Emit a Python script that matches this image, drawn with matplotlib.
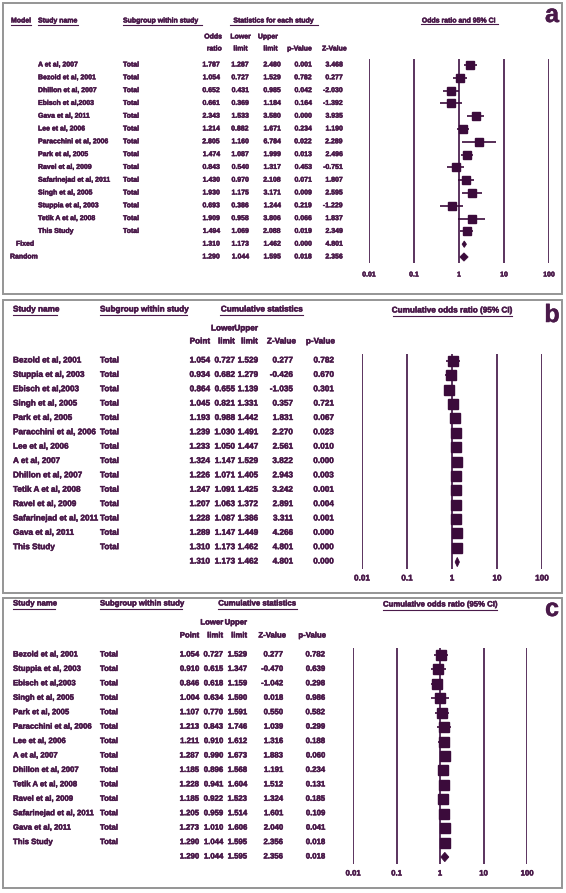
import matplotlib
matplotlib.use('Agg')
import matplotlib.pyplot as plt
import matplotlib.transforms as mtransforms
import matplotlib.patheffects as pe
from matplotlib.patches import Rectangle, Polygon
from matplotlib.lines import Line2D

# ---- data ----
# panel a: individual studies
studies_a = ["A et al, 2007", "Bezold et al, 2001", "Dhillon et al, 2007", "Ebisch et al,2003",
             "Gava et al, 2011", "Lee et al, 2006", "Paracchini et al, 2006", "Park et al, 2005",
             "Ravel et al, 2009", "Safarinejad et al, 2011", "Singh et al, 2005",
             "Stuppia et al, 2003", "Tetik A et al, 2008", "This Study"]
or_a = [1.787, 1.054, 0.652, 0.661, 2.343, 1.214, 2.805, 1.474, 0.843, 1.430, 1.930, 0.693, 1.909, 1.494]
lo_a = [1.287, 0.727, 0.431, 0.369, 1.533, 0.882, 1.160, 1.087, 0.540, 0.970, 1.175, 0.386, 0.958, 1.069]
hi_a = [2.480, 1.529, 0.985, 1.184, 3.580, 1.671, 6.784, 1.999, 1.317, 2.108, 3.171, 1.244, 3.806, 2.088]
p_a = [0.001, 0.782, 0.042, 0.164, 0.000, 0.234, 0.022, 0.013, 0.453, 0.071, 0.009, 0.219, 0.066, 0.019]
z_a = [3.468, 0.277, -2.030, -1.392, 3.935, 1.190, 2.289, 2.496, -0.751, 1.807, 2.595, -1.229, 1.837, 2.349]
models = ["Fixed", "Random"]
or_pool = [1.310, 1.290]
lo_pool = [1.173, 1.044]
hi_pool = [1.462, 1.595]
p_pool = [0.000, 0.018]
z_pool = [4.801, 2.356]

# panels b and c: cumulative analysis (same study order)
studies_cum = ["Bezold et al, 2001", "Stuppia et al, 2003", "Ebisch et al,2003", "Singh et al, 2005",
               "Park et al, 2005", "Paracchini et al, 2006", "Lee et al, 2006", "A et al, 2007",
               "Dhillon et al, 2007", "Tetik A et al, 2008", "Ravel et al, 2009",
               "Safarinejad et al, 2011", "Gava et al, 2011", "This Study"]
pt_b = [1.054, 0.934, 0.864, 1.045, 1.193, 1.239, 1.233, 1.324, 1.226, 1.247, 1.207, 1.228, 1.289, 1.310, 1.310]
lo_b = [0.727, 0.682, 0.655, 0.821, 0.988, 1.030, 1.050, 1.147, 1.071, 1.091, 1.063, 1.087, 1.147, 1.173, 1.173]
hi_b = [1.529, 1.279, 1.139, 1.331, 1.442, 1.491, 1.447, 1.529, 1.405, 1.425, 1.372, 1.386, 1.449, 1.462, 1.462]
z_b = [0.277, -0.426, -1.035, 0.357, 1.831, 2.270, 2.561, 3.822, 2.943, 3.242, 2.891, 3.311, 4.266, 4.801, 4.801]
p_b = [0.782, 0.670, 0.301, 0.721, 0.067, 0.023, 0.010, 0.000, 0.003, 0.001, 0.004, 0.001, 0.000, 0.000, 0.000]

pt_c = [1.054, 0.910, 0.846, 1.004, 1.107, 1.213, 1.211, 1.287, 1.185, 1.228, 1.185, 1.205, 1.273, 1.290, 1.290]
lo_c = [0.727, 0.615, 0.618, 0.634, 0.770, 0.843, 0.910, 0.990, 0.896, 0.941, 0.922, 0.959, 1.010, 1.044, 1.044]
hi_c = [1.529, 1.347, 1.159, 1.590, 1.591, 1.746, 1.612, 1.673, 1.568, 1.604, 1.523, 1.514, 1.606, 1.595, 1.595]
z_c = [0.277, -0.470, -1.042, 0.018, 0.550, 1.039, 1.316, 1.883, 1.191, 1.512, 1.324, 1.601, 2.040, 2.356, 2.356]
p_c = [0.782, 0.639, 0.298, 0.986, 0.582, 0.299, 0.188, 0.060, 0.234, 0.131, 0.185, 0.109, 0.041, 0.018, 0.018]

ticks = [0.01, 0.1, 1, 10, 100]
tick_labels = ["0.01", "0.1", "1", "10", "100"]

# ---- style ----
plt.rcParams['font.family'] = 'Liberation Sans'
TXT = '#4a1a4a'
MARK = '#3b0b3b'
VLINE = '#4d2352'
HEAVY = [pe.withStroke(linewidth=0.35, foreground=TXT)]  # the original face is very heavy
W, H = 566, 893

fig = plt.figure(figsize=(W / 100, H / 100), dpi=100)


def fx(px):
    return px / W


def fy(py):
    return 1 - py / H


def ftext(px, py, s, size, ha='left'):
    fig.text(fx(px), fy(py), s, fontsize=size, ha=ha, va='center', color=TXT,
             fontweight='bold', path_effects=HEAVY)


def uline(x0, x1, py):
    fig.add_artist(Line2D([fx(x0), fx(x1)], [fy(py), fy(py)], transform=fig.transFigure,
                          color=TXT, lw=0.8))


def frame(y0, y1):
    fig.add_artist(Rectangle((fx(3), fy(y1)), fx(562) - fx(3), (y1 - y0) / H,
                             transform=fig.transFigure, fill=False, ec='#959595', lw=1.4))


def forest_axes(x0, x1, y0, y1, nrows, tick_y, size):
    ax = fig.add_axes([fx(x0), fy(y1), (x1 - x0) / W, (y1 - y0) / H])
    ax.set_xscale('log')
    ax.set_xlim(0.01, 100)
    ax.set_ylim(nrows - 0.5, -0.5)
    ax.axis('off')
    for t in ticks:
        ax.axvline(t, color=VLINE, lw=1.3, zorder=1)
    tr = mtransforms.blended_transform_factory(ax.transData, fig.transFigure)
    for t, lab in zip(ticks, tick_labels):
        ax.text(t, fy(tick_y), lab, transform=tr, ha='center', va='center',
                fontsize=size, color=TXT, fontweight='bold', path_effects=HEAVY)
    return ax


def diamond(ax, y, est, lo, hi, h):
    ax.add_patch(Polygon([(lo, y), (est, y - h), (hi, y), (est, y + h)], closed=True,
                         fc=MARK, ec=MARK, lw=0.6, zorder=3, clip_on=False))


def row_text(ax, px, row, s, size, ha='left'):
    tr = mtransforms.blended_transform_factory(fig.transFigure, ax.transData)
    ax.text(fx(px), row, s, transform=tr, ha=ha, va='center', fontsize=size,
            color=TXT, fontweight='bold', clip_on=False, path_effects=HEAVY)


# ================= panel a =================
frame(3, 294)
sa = 5.0
ftext(11, 21, "Model", sa)
ftext(38, 21, "Study name", sa)
ftext(123, 21, "Subgroup within study", sa)
ftext(274, 21, "Statistics for each study", sa, ha='center')
ftext(459, 21, "Odds ratio and 95% CI", sa, ha='center')
uline(11, 31, 25)
uline(38, 78, 25)
uline(123, 202, 25)
uline(230, 318, 25)
uline(421, 498, 24)
ftext(552, 15, "a", 18, ha='center')
ftext(222, 37, "Odds", sa, ha='right')
ftext(251, 37, "Lower", sa, ha='right')
ftext(278, 37, "Upper", sa, ha='right')
for px, s in zip([222, 248, 278, 312, 347], ["ratio", "limit", "limit", "p-Value", "Z-Value"]):
    ftext(px, 49, s, sa, ha='right')

n_a = len(studies_a) + len(models)
ax_a = forest_axes(369, 549, 58.6, 263.4, n_a, 275, sa)
cols_a = [220, 249, 281, 312, 343]
for i, name in enumerate(studies_a):
    row_text(ax_a, 38, i, name, sa)
    row_text(ax_a, 123, i, "Total", sa)
    for px, v in zip(cols_a, [or_a[i], lo_a[i], hi_a[i], p_a[i], z_a[i]]):
        row_text(ax_a, px, i, f"{v:.3f}", sa, ha='right')
    ax_a.hlines(i, lo_a[i], hi_a[i], color=MARK, lw=1.2, zorder=2)
    ax_a.plot(or_a[i], i, marker='s', ms=5.8, color=MARK, zorder=3, clip_on=False)
for k, m in enumerate(models):
    r = len(studies_a) + k
    row_text(ax_a, 16 if m == "Fixed" else 10, r, m, sa)
    for px, v in zip(cols_a, [or_pool[k], lo_pool[k], hi_pool[k], p_pool[k], z_pool[k]]):
        row_text(ax_a, px, r, f"{v:.3f}", sa, ha='right')
    diamond(ax_a, r, or_pool[k], lo_pool[k], hi_pool[k], 0.25 if k == 0 else 0.32)


# ================= panels b and c =================
def cumulative_panel(top, bottom, row0, step, x0, x1, tick_y, size, letter,
                     pt, lo, hi, z, p, cols, hdr):
    frame(top, bottom)
    hy = row0 - 51
    ftext(13, hy, "Study name", size)
    ftext(100, hy, "Subgroup within study", size)
    ftext(hdr['stat_c'], hy, "Cumulative statistics", size, ha='center')
    ftext(hdr['or_c'], hy + 1, "Cumulative odds ratio (95% CI)", size, ha='center')
    uline(13, hdr['sn_end'], hy + 5)
    uline(100, hdr['sg_end'], hy + 5)
    uline(*hdr['stat_ul'], hy + 5)
    uline(*hdr['or_ul'], hy + 6)
    ftext(552, hy + 5, letter, 18, ha='center')
    ftext(cols[1], row0 - 32, "Lower", size, ha='right')
    ftext(cols[2], row0 - 32, "Upper", size, ha='right')
    for px, s in zip([cols[0], cols[1], cols[2], cols[3] + 3, cols[4] + 1],
                     ["Point", "limit", "limit", "Z-Value", "p-Value"]):
        ftext(px, row0 - 19, s, size, ha='right')

    n = len(pt)
    ax = forest_axes(x0, x1, row0 - step / 2, row0 + step * (n - 1) + step / 2, n, tick_y, size)
    for i in range(n):
        if i < len(studies_cum):
            row_text(ax, 13, i, studies_cum[i], size)
            row_text(ax, 100, i, "Total", size)
        for px, v in zip(cols, [pt[i], lo[i], hi[i], z[i], p[i]]):
            row_text(ax, px, i, f"{v:.3f}", size, ha='right')
        if i < len(studies_cum):
            ax.hlines(i, lo[i], hi[i], color=MARK, lw=1.2, zorder=2)
            ax.plot(pt[i], i, marker='s', ms=6.6, color=MARK, zorder=3, clip_on=False)
        else:
            diamond(ax, i, pt[i], lo[i], hi[i], 0.32)
    return ax


cumulative_panel(300, 593, 361, 14.36, 362, 542, 579, 5.9, "b",
                 pt_b, lo_b, hi_b, z_b, p_b, [210, 235, 258, 293, 334],
                 dict(stat_c=262, or_c=452, sn_end=57, sg_end=187,
                      stat_ul=(220, 303), or_ul=(393, 512)))
cumulative_panel(598, 888, 655, 14.43, 353, 527, 874, 5.6, "c",
                 pt_c, lo_c, hi_c, z_c, p_c, [199, 223, 247, 283, 325],
                 dict(stat_c=257, or_c=440, sn_end=55, sg_end=182,
                      stat_ul=(218, 297), or_ul=(383, 497)))

plt.savefig('out.png', dpi=100)
